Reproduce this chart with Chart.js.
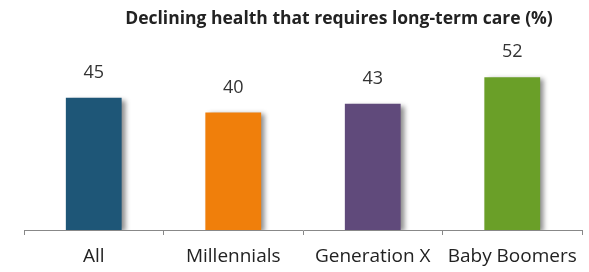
<!DOCTYPE html>
<html>
<head>
<meta charset="utf-8">
<script src="https://cdn.jsdelivr.net/npm/chart.js@4"></script>
<style>
  html, body { margin: 0; padding: 0; background: #fff; }
  #wrap { width: 589px; height: 272px; position: relative; }
</style>
</head>
<body>
<div id="wrap"><canvas id="Cnvs1"></canvas></div>
<script>
  var categories = ['All', 'Millennials', 'Generation X', 'Baby Boomers'];
  var values = [45, 40, 43, 52];
  var barColors = ['#1e5677', '#f07f0b', '#604a7b', '#6a9f28'];
  var chartTitle = 'Declining health that requires long-term care (%)';

  // shadow on the right of each bar
  var barShadow = {
    id: 'barShadow',
    beforeDatasetsDraw: function(chart) {
      var c = chart.ctx;
      c.save();
      c.shadowColor = 'rgba(0,0,0,0.45)';
      c.shadowBlur = 5;
      c.shadowOffsetX = 4;
      c.shadowOffsetY = 2;
    },
    afterDatasetsDraw: function(chart) {
      chart.ctx.restore();
    }
  };

  // value labels above the bars + title
  var labels = {
    id: 'labels',
    afterDraw: function(chart) {
      var c = chart.ctx;
      c.save();
      c.fillStyle = '#333';
      c.font = '18px "Open Sans"';
      c.textAlign = 'center';
      c.textBaseline = 'middle';
      chart.getDatasetMeta(0).data.forEach(function(bar, i) {
        c.fillText(values[i], bar.x, bar.y - 25);
      });
      c.fillStyle = '#222';
      c.font = 'bold 17.5px "Open Sans"';
      c.fillText(chartTitle, 339, 19);
      c.restore();
    }
  };

  var Cnvs = document.getElementById('Cnvs1').getContext('2d');
  var barChart = new Chart(Cnvs, {
    type: 'bar',
    data: {
      labels: categories,
      datasets: [{
        data: values,
        backgroundColor: barColors,
        barPercentage: 0.4,
        categoryPercentage: 1.0
      }]
    },
    options: {
      responsive: true,
      maintainAspectRatio: false,
      animation: false,
      layout: { padding: { left: 24, right: 7, top: 39, bottom: 0 } },
      plugins: {
        legend: { display: false },
        title: { display: false },
        tooltip: { enabled: false }
      },
      scales: {
        x: {
          offset: true,
          afterFit: function(scale) { scale.height = 42; },
          grid: { display: true, drawOnChartArea: false, tickLength: 5, color: '#888', offset: true },
          border: { display: true, color: '#888', width: 1 },
          ticks: { color: '#222', font: { family: 'Open Sans', size: 19 }, padding: 10 }
        },
        y: {
          display: false,
          min: 0,
          max: 65
        }
      }
    },
    plugins: [barShadow, labels]
  });
</script>
</body>
</html>
